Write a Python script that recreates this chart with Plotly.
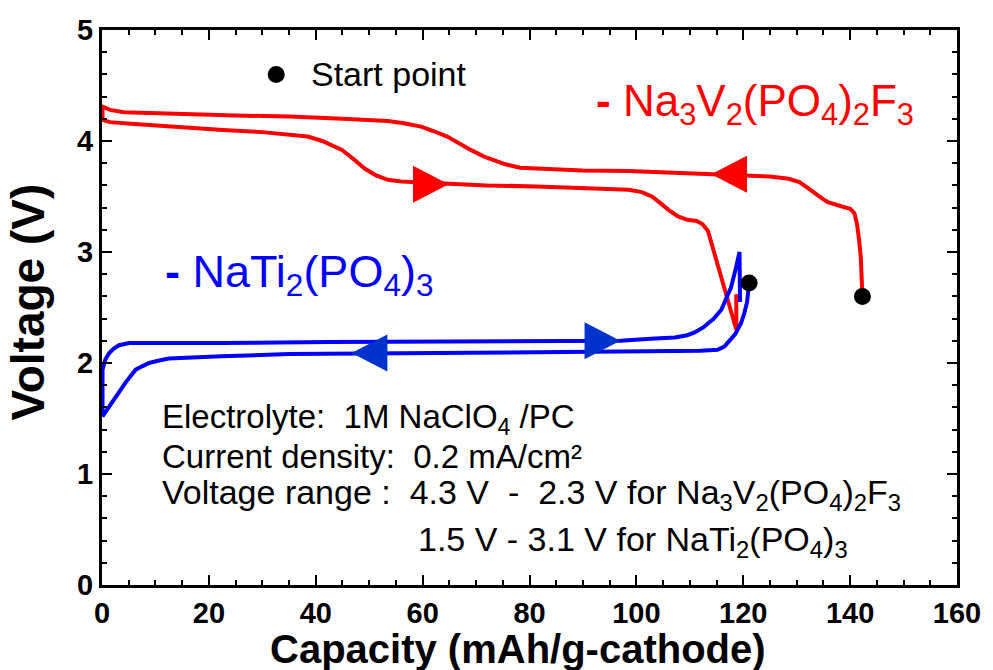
import plotly.graph_objects as go

# ---------------- data ----------------
# Na3V2(PO4)2F3 cathode curve (start at 142 mAh/g, charge leftwards, then discharge rightwards)
red_cap = [142.3, 142.2, 142.0, 141.7, 141.3, 140.8, 140.0, 138.5, 137.0, 135.8, 134.8, 133.5,
           132.0, 130.5, 128.5, 125.0, 120.0, 114.0, 105.0, 98.6, 90.0, 81.3, 78.2, 75.5, 73.9,
           71.5, 69.0, 66.5, 64.6, 62.0, 59.7, 56.5, 53.5, 45.0, 35.0, 25.0, 16.5, 10.0, 4.1,
           1.5, 0.1, 0.1, 1.5, 5.4, 15.0, 22.6, 30.0, 35.0, 38.5, 41.2, 43.2, 44.9, 47.0, 49.2,
           51.3, 53.5, 56.0, 58.5, 64.9, 72.0, 81.3, 90.0, 98.6, 101.0, 102.9, 104.5, 106.0,
           107.8, 109.5, 111.3, 112.4, 113.4, 118.7, 118.7]
red_volt = [2.60, 2.80, 2.95, 3.10, 3.25, 3.35, 3.39, 3.41, 3.43, 3.45, 3.48, 3.53,
            3.58, 3.63, 3.66, 3.68, 3.69, 3.70, 3.715, 3.73, 3.735, 3.75, 3.76, 3.79, 3.82,
            3.86, 3.92, 3.99, 4.04, 4.09, 4.13, 4.16, 4.18, 4.20, 4.22, 4.23, 4.24, 4.25, 4.26,
            4.28, 4.31, 4.19, 4.17, 4.155, 4.12, 4.10, 4.08, 4.06, 4.04, 4.00, 3.96, 3.92, 3.84, 3.75,
            3.69, 3.65, 3.635, 3.63, 3.61, 3.60, 3.59, 3.575, 3.56, 3.54, 3.50, 3.44, 3.38,
            3.32, 3.29, 3.28, 3.25, 3.19, 2.30, 2.62]

# NaTi2(PO4)3 anode curve (start at 121 mAh/g)
blue_cap = [121.1, 121.0, 120.7, 120.2, 119.6, 118.5, 117.5, 116.5, 115.2, 112.0, 107.2, 80.0,
            60.0, 46.7, 35.0, 22.3, 16.0, 12.5, 10.5, 8.8, 7.5, 6.3, 4.5, 2.6, 1.2, 0.1,
            0.1, 0.6, 1.35, 2.2, 3.2, 5.1, 10.0, 22.3, 42.4, 70.0, 97.0, 103.5, 107.2, 109.5,
            110.9, 112.5, 114.5, 115.9, 117.7, 118.6, 119.3, 119.4]
blue_volt = [2.72, 2.64, 2.545, 2.45, 2.36, 2.26, 2.20, 2.15, 2.12, 2.11, 2.107, 2.10,
             2.095, 2.09, 2.08, 2.06, 2.05, 2.04, 2.02, 2.00, 1.97, 1.94, 1.83, 1.70, 1.60, 1.52,
             1.94, 2.03, 2.09, 2.13, 2.16, 2.18, 2.18, 2.18, 2.19, 2.195, 2.20, 2.22, 2.23, 2.25,
             2.275, 2.32, 2.40, 2.48, 2.68, 2.85, 3.00, 2.55]

# start points
start_cap = [121.1, 142.3]
start_volt = [2.72, 2.60]
legend_dot_cap = [32.6]
legend_dot_volt = [4.60]

# direction arrows (tip positions)
arrow_cap = [64.9, 114.0, 46.7, 97.0]
arrow_volt = [3.61, 3.70, 2.09, 2.20]
arrow_dir = [1, -1, -1, 1]
arrow_color = ["#FF0000", "#FF0000", "#0033CC", "#0033CC"]

x_ticks = [0, 20, 40, 60, 80, 100, 120, 140, 160]
y_ticks = [0, 1, 2, 3, 4, 5]

FONT = "Liberation Sans, Arial, sans-serif"

fig = go.Figure()

fig.add_trace(go.Scatter(x=red_cap, y=red_volt, mode="lines",
                         line=dict(color="#FF0000", width=4), showlegend=False,
                         hoverinfo="skip"))
fig.add_trace(go.Scatter(x=blue_cap, y=blue_volt, mode="lines",
                         line=dict(color="#0000FF", width=4), showlegend=False,
                         hoverinfo="skip"))

ARROW_LEN = 6.7
ARROW_HALF = 0.167
for ax_, ay_, d_, c_ in zip(arrow_cap, arrow_volt, arrow_dir, arrow_color):
    bx = ax_ - d_ * ARROW_LEN
    fig.add_trace(go.Scatter(x=[ax_, bx, bx, ax_], y=[ay_, ay_ + ARROW_HALF, ay_ - ARROW_HALF, ay_],
                             mode="lines", fill="toself", fillcolor=c_,
                             line=dict(color=c_, width=0), showlegend=False, hoverinfo="skip"))

fig.add_trace(go.Scatter(x=start_cap + legend_dot_cap, y=start_volt + legend_dot_volt,
                         mode="markers", marker=dict(color="black", size=17),
                         showlegend=False, hoverinfo="skip"))

axis_common = dict(
    showgrid=False, zeroline=False,
    showline=True, linecolor="black", linewidth=3, mirror="ticks",
    ticks="inside", ticklen=10, tickwidth=2, tickcolor="black",
    tickfont=dict(family=FONT, size=29, color="black", weight="bold"),
)

fig.update_xaxes(range=[0, 160], tickvals=x_ticks,
                 minor=dict(dtick=5, ticks="inside", ticklen=5, tickwidth=2, tickcolor="black"),
                 **axis_common)
fig.update_yaxes(range=[0, 5], tickvals=y_ticks,
                 minor=dict(dtick=0.2, ticks="inside", ticklen=5, tickwidth=2, tickcolor="black"),
                 **axis_common)

TXT = dict(family=FONT, size=33, color="black")
TXT2 = dict(family=FONT, size=34, color="black")
NB = "\u00a0"

annotations = [
    dict(text="Capacity (mAh/g-cathode)", x=0.486, y=-0.115, xref="paper", yref="paper",
         xanchor="center", yanchor="middle", showarrow=False,
         font=dict(family=FONT, size=40, color="black", weight="bold")),
    dict(text="Voltage (V)", x=-0.087, y=0.51, xref="paper", yref="paper", textangle=-90,
         xanchor="center", yanchor="middle", showarrow=False,
         font=dict(family=FONT, size=46, color="black", weight="bold")),
    dict(text="Start point", x=0.242, y=0.921, xref="paper", yref="paper",
         xanchor="left", yanchor="middle", showarrow=False,
         font=dict(family=FONT, size=34, color="black")),
    dict(text="<b>-</b> Na<sub>3</sub>V<sub>2</sub>(PO<sub>4</sub>)<sub>2</sub>F<sub>3</sub>",
         x=0.576, y=0.867, xref="paper", yref="paper",
         xanchor="left", yanchor="middle", showarrow=False,
         font=dict(family=FONT, size=44, color="#FF0000")),
    dict(text="<b>-</b> NaTi<sub>2</sub>(PO<sub>4</sub>)<sub>3</sub>",
         x=0.071, y=0.559, xref="paper", yref="paper",
         xanchor="left", yanchor="middle", showarrow=False,
         font=dict(family=FONT, size=45, color="#0000FF")),
    dict(text="Electrolyte:" + NB * 2 + "1M NaClO<sub>4</sub> /PC",
         x=0.068, y=0.300, xref="paper", yref="paper",
         xanchor="left", yanchor="middle", showarrow=False, font=TXT),
    dict(text="Current density:" + NB * 2 + "0.2 mA/cm\u00b2",
         x=0.068, y=0.231, xref="paper", yref="paper",
         xanchor="left", yanchor="middle", showarrow=False, font=TXT),
    dict(text="Voltage range" + NB + ":" + NB * 2 + "4.3 V" + NB * 2 + "-" + NB * 2
         + "2.3 V for Na<sub>3</sub>V<sub>2</sub>(PO<sub>4</sub>)<sub>2</sub>F<sub>3</sub>",
         x=0.068, y=0.163, xref="paper", yref="paper",
         xanchor="left", yanchor="middle", showarrow=False, font=TXT2),
    dict(text="1.5 V - 3.1 V for NaTi<sub>2</sub>(PO<sub>4</sub>)<sub>3</sub>",
         x=0.367, y=0.079, xref="paper", yref="paper",
         xanchor="left", yanchor="middle", showarrow=False, font=TXT2),
]

fig.update_layout(
    width=993, height=670,
    margin=dict(l=102, r=30, t=30, b=85),
    paper_bgcolor="white", plot_bgcolor="white",
    annotations=annotations,
    showlegend=False,
)

fig.write_html("out.html")
